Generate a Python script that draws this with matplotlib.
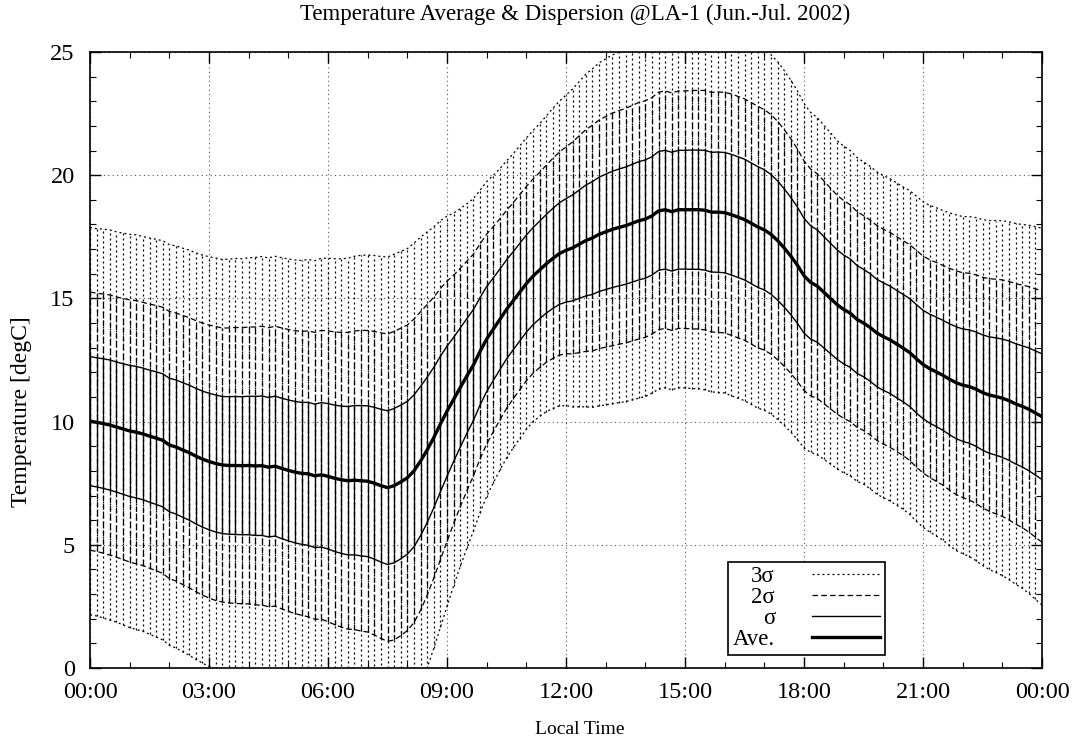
import numpy as np
import matplotlib
matplotlib.use("Agg")
import matplotlib.pyplot as plt
from matplotlib.lines import Line2D

# ---- data (10-minute steps, 00:00 .. 24:00) ----
avg = [
    10.02, 9.97, 9.92, 9.86, 9.78, 9.70,
    9.62, 9.57, 9.50, 9.41, 9.33, 9.24,
    9.05, 8.97, 8.85, 8.74, 8.60, 8.48,
    8.38, 8.30, 8.24, 8.22, 8.22, 8.21,
    8.22, 8.20, 8.21, 8.15, 8.19, 8.10,
    8.02, 7.95, 7.90, 7.88, 7.80, 7.84,
    7.78, 7.70, 7.64, 7.60, 7.62, 7.60,
    7.58, 7.50, 7.40, 7.32, 7.40, 7.55,
    7.72, 8.00, 8.40, 8.85, 9.35, 9.90,
    10.42, 10.90, 11.38, 11.85, 12.30, 12.85,
    13.35, 13.75, 14.15, 14.55, 14.90, 15.25,
    15.60, 15.90, 16.15, 16.40, 16.62, 16.82,
    16.95, 17.05, 17.20, 17.35, 17.45, 17.60,
    17.70, 17.80, 17.88, 17.95, 18.05, 18.15,
    18.22, 18.35, 18.55, 18.60, 18.52, 18.60,
    18.60, 18.60, 18.60, 18.58, 18.50, 18.50,
    18.48, 18.40, 18.30, 18.20, 18.05, 17.90,
    17.78, 17.60, 17.35, 17.05, 16.72, 16.35,
    15.92, 15.65, 15.50, 15.25, 15.00, 14.75,
    14.55, 14.40, 14.15, 14.00, 13.82, 13.60,
    13.45, 13.32, 13.15, 12.98, 12.80, 12.55,
    12.32, 12.15, 12.02, 11.88, 11.72, 11.58,
    11.48, 11.42, 11.32, 11.18, 11.08, 11.02,
    10.95, 10.85, 10.72, 10.62, 10.50, 10.35,
    10.20,
]
sigma = [
    2.62, 2.62, 2.63, 2.64, 2.64, 2.65,
    2.66, 2.67, 2.67, 2.68, 2.69, 2.70,
    2.71, 2.72, 2.73, 2.74, 2.75, 2.76,
    2.77, 2.78, 2.78, 2.79, 2.80, 2.80,
    2.81, 2.82, 2.83, 2.83, 2.84, 2.85,
    2.86, 2.87, 2.88, 2.90, 2.91, 2.93,
    2.95, 2.97, 2.99, 3.01, 3.03, 3.05,
    3.06, 3.08, 3.10, 3.12, 3.13, 3.12,
    3.10, 3.08, 3.03, 2.95, 2.85, 2.75,
    2.64, 2.52, 2.42, 2.33, 2.25, 2.18,
    2.13, 2.08, 2.04, 2.01, 1.99, 1.98,
    1.97, 1.97, 1.98, 2.00, 2.03, 2.06,
    2.10, 2.15, 2.20, 2.25, 2.29, 2.32,
    2.34, 2.36, 2.37, 2.38, 2.39, 2.40,
    2.40, 2.40, 2.41, 2.41, 2.41, 2.41,
    2.41, 2.42, 2.42, 2.43, 2.43, 2.44,
    2.44, 2.45, 2.45, 2.45, 2.45, 2.45,
    2.44, 2.43, 2.42, 2.40, 2.38, 2.36,
    2.33, 2.30, 2.28, 2.26, 2.24, 2.22,
    2.21, 2.20, 2.19, 2.18, 2.18, 2.18,
    2.18, 2.18, 2.18, 2.18, 2.19, 2.20,
    2.20, 2.21, 2.22, 2.23, 2.25, 2.27,
    2.28, 2.30, 2.32, 2.34, 2.36, 2.38,
    2.40, 2.42, 2.44, 2.46, 2.49, 2.52,
    2.55,
]
xtick_hours = [0, 3, 6, 9, 12, 15, 18, 21, 24]
xtick_labels = ["00:00", "03:00", "06:00", "09:00", "12:00", "15:00", "18:00", "21:00", "00:00"]
ytick_values = [0, 5, 10, 15, 20, 25]

title = "Temperature Average & Dispersion @LA-1 (Jun.-Jul. 2002)"
xlabel = "Local Time"
ylabel = "Temperature [degC]"
legend_labels = ["3σ", "2σ", "σ", "Ave."]

# ---- plotting ----
plt.rcParams['font.family'] = ['Liberation Serif', 'DejaVu Serif']

avg_a = np.array(avg)
sig_a = np.array(sigma)
t = np.arange(len(avg_a)) / 6.0  # hours

W, H = 1077, 747
fig = plt.figure(figsize=(W / 100, H / 100), dpi=100)
ax = fig.add_axes([90 / W, 1 - 668 / H, (1042 - 90) / W, (668 - 52) / H])

DOT = (0, (1.6, 2.4))
DASH = (0, (4.5, 2.5))

# error bars
ax.vlines(t, avg_a - 3 * sig_a, avg_a + 3 * sig_a, colors='black', linestyles=[DOT], linewidth=0.9)
ax.vlines(t, avg_a - 2 * sig_a, avg_a + 2 * sig_a, colors='black', linestyles=[DASH], linewidth=0.9)
ax.vlines(t, avg_a - sig_a, avg_a + sig_a, colors='black', linestyles='solid', linewidth=0.9)

# envelopes
for k, ls, lw in [(3, DOT, 0.9), (2, DASH, 0.9), (1, '-', 1.0)]:
    ax.plot(t, avg_a + k * sig_a, color='black', linestyle=ls, linewidth=lw)
    ax.plot(t, avg_a - k * sig_a, color='black', linestyle=ls, linewidth=lw)
ax.plot(t, avg_a, color='black', linewidth=2.4)

ax.set_xlim(0, 24)
ax.set_ylim(0, 25)
ax.set_xticks(xtick_hours)
ax.set_xticklabels(xtick_labels)
ax.set_xticks(range(0, 25), minor=True)
ax.set_yticks(ytick_values)
ax.set_yticks(range(0, 26), minor=True)
ax.tick_params(axis='both', which='both', direction='in', top=True, right=True, labelsize=17.5)
ax.tick_params(axis='x', pad=10)
ax.tick_params(axis='y', pad=11)
ax.tick_params(which='major', length=8, width=1)
ax.tick_params(which='minor', length=4, width=0.8)
ax.grid(True, which='major', color='#555555', linestyle=(0, (1, 3)), linewidth=0.8)
for s in ax.spines.values():
    s.set_linewidth(1.2)

fig.text(575 / W, 1 - 14 / H, title, fontsize=16.5, ha='center', va='center')
fig.text(580 / W, 1 - 730 / H, xlabel, fontsize=14, ha='center', va='center')
fig.text(22 / W, 1 - 412 / H, ylabel, fontsize=17, ha='center', va='center', rotation=90)

handles = [
    Line2D([], [], color='black', linestyle=DOT, linewidth=0.9),
    Line2D([], [], color='black', linestyle=DASH, linewidth=0.9),
    Line2D([], [], color='black', linestyle='-', linewidth=1.0),
    Line2D([], [], color='black', linestyle='-', linewidth=2.4),
]
leg = ax.legend(handles, legend_labels, loc='lower right', bbox_to_anchor=(0.835, 0.021),
                borderaxespad=0, markerfirst=False, fontsize=16.5, handlelength=3.0,
                frameon=True, fancybox=False, framealpha=1, edgecolor='black',
                labelspacing=0.0, handletextpad=1.6, borderpad=0.2)
leg.get_frame().set_linewidth(1.2)
leg._legend_box.align = 'right'
for txt in leg.get_texts():
    txt.set_ha('right')

fig.savefig("out.png", dpi=100)
